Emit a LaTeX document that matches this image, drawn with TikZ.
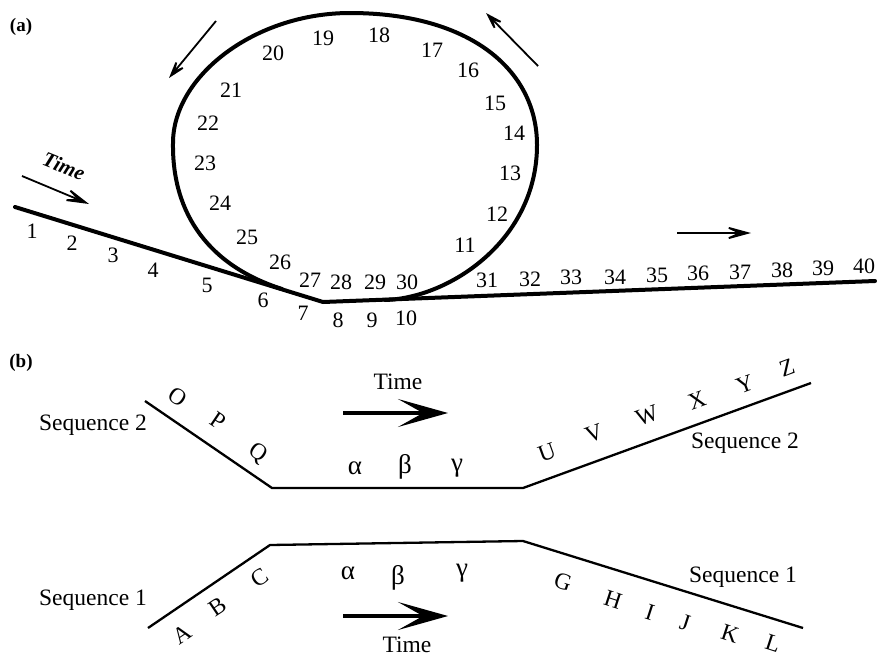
\documentclass[tikz,border=0pt]{standalone}
\usepackage{fontspec}
\setmainfont{Liberation Serif}
\usetikzlibrary{arrows.meta}

\begin{document}
\begin{tikzpicture}[x=1pt,y=-1pt,
  num/.style={font=\fontsize{22}{22}\selectfont, inner sep=0pt},
  lab/.style={font=\fontsize{23.5}{23.5}\selectfont, inner sep=0pt},
  greek/.style={font=\fontsize{27}{27}\selectfont, inner sep=0pt},
  panel/.style={font=\fontsize{19}{19}\selectfont\bfseries, inner sep=0pt},
  track/.style={line width=4pt, line cap=round, line join=round},
  seqline/.style={line width=2.3pt, line join=round},
  thinarrow/.style={line width=1.8pt, -{Stealth[length=33pt,width=18pt,inset=20pt]}},
  looparrow/.style={line width=1.8pt, -{Stealth[length=27pt,width=17pt,inset=17pt]}},
  timearrow/.style={line width=3.5pt, -{Stealth[length=50pt,width=28pt,inset=25pt]}}]

\useasboundingbox (0,0) rectangle (877,656);

% ---------------- (a) : the track with its loop ----------------
\node[panel] (pa) at (21,27) {(a)};

\coordinate (in0) at (15,207);
\coordinate (kink) at (323,302);
\coordinate (out0) at (875,281);
\draw[track] (in0) -- (kink) -- (out0);

% the loop, leaving the incoming track and rejoining the outgoing one
\coordinate (lp0) at (282,289);
\coordinate (lpw) at (173,143);
\coordinate (lpn) at (350,13);
\coordinate (lpe) at (537,145);
\coordinate (lp1) at (385,300);
\draw[track] (lp0) .. controls (210,266) and (172,215) .. (lpw)
  .. controls (173,76) and (255,13) .. (lpn)
  .. controls (470,13) and (537,70) .. (lpe)
  .. controls (537,240) and (450,298) .. (lp1);

% direction markers
\node[font=\fontsize{21}{21}\selectfont\bfseries\itshape, rotate=-22, inner sep=0pt] (ta) at (64,166) {Time};
\coordinate (ta0) at (22,176);
\coordinate (ta1) at (89,204);
\draw[thinarrow] (ta0) -- (ta1);

\coordinate (la0) at (216,21);
\coordinate (la1) at (169,78);
\draw[looparrow] (la0) -- (la1);

\coordinate (ra0) at (538,66);
\coordinate (ra1) at (486,13);
\draw[looparrow] (ra0) -- (ra1);

\coordinate (oa0) at (677,233);
\coordinate (oa1) at (751,233);
\draw[thinarrow] (oa0) -- (oa1);

% sequence positions
\foreach \n/\x/\y in {1/32/231, 2/72/243, 3/113/255, 4/153/270, 5/207/285,
  6/263/300, 7/303/313, 8/338/320, 9/372/320, 10/406/318,
  11/465/245, 12/497/214, 13/510/173, 14/514/133, 15/495/103,
  16/468/70, 17/432/50, 18/379/35, 19/323/38, 20/273/53,
  21/231/90, 22/208/123, 23/205/163, 24/220/203, 25/247/237,
  26/280/262, 27/310/280, 28/341/282, 29/375/282, 30/407/282,
  31/487/280, 32/530/279, 33/571/277, 34/615/277, 35/657/275,
  36/698/273, 37/740/272, 38/782/270, 39/823/268, 40/864/266}
  \node[num] (p\n) at (\x,\y) {\n};

% ---------------- (b) : two sequences sharing a segment ----------------
\node[panel] (pb) at (21,363) {(b)};

% sequence 2 (upper)
\coordinate (s2a) at (145,401);
\coordinate (s2b) at (272,488);
\coordinate (s2c) at (523,488);
\coordinate (s2d) at (811,383);
\draw[seqline] (s2a) -- (s2b) -- (s2c) -- (s2d);

% sequence 1 (lower)
\coordinate (s1a) at (148,628);
\coordinate (s1b) at (270,545);
\coordinate (s1c) at (523,541);
\coordinate (s1d) at (803,628);
\draw[seqline] (s1a) -- (s1b) -- (s1c) -- (s1d);

\node[lab] (sq2l) at (93,425) {Sequence 2};
\node[lab] (sq2r) at (745,443) {Sequence 2};
\node[lab] (sq1l) at (93,600) {Sequence 1};
\node[lab] (sq1r) at (743,577) {Sequence 1};

% letters along sequence 2
\node[lab, rotate=-34] (lO) at (178,397) {O};
\node[lab, rotate=-34] (lP) at (218,421) {P};
\node[lab, rotate=-34] (lQ) at (258,453) {Q};
\node[greek] (ga2) at (355,468) {α};
\node[greek] (gb2) at (405,467) {β};
\node[greek] (gg2) at (457,468) {γ};
\node[lab, rotate=20] (lU) at (547,452) {U};
\node[lab, rotate=20] (lV) at (594,434) {V};
\node[lab, rotate=20] (lW) at (647,416) {W};
\node[lab, rotate=20] (lX) at (697,400) {X};
\node[lab, rotate=20] (lY) at (745,384) {Y};
\node[lab, rotate=20] (lZ) at (787,368) {Z};

% letters along sequence 1
\node[lab, rotate=34] (lA) at (182,634) {A};
\node[lab, rotate=34] (lB) at (218,607) {B};
\node[lab, rotate=34] (lC) at (260,578) {C};
\node[greek] (ga1) at (348,573) {α};
\node[greek] (gb1) at (398,578) {β};
\node[greek] (gg1) at (462,573) {γ};
\node[lab, rotate=-18] (lG) at (563,582) {G};
\node[lab, rotate=-18] (lH) at (613,600) {H};
\node[lab, rotate=-18] (lI) at (650,612) {I};
\node[lab, rotate=-18] (lJ) at (685,623) {J};
\node[lab, rotate=-18] (lK) at (730,634) {K};
\node[lab, rotate=-18] (lL) at (773,643) {L};

% time arrows
\node[lab] (tt2) at (398,382) {Time};
\coordinate (t2a) at (343,413);
\coordinate (t2b) at (448,413);
\draw[timearrow] (t2a) -- (t2b);

\node[lab] (tt1) at (407,645) {Time};
\coordinate (t1a) at (343,616);
\coordinate (t1b) at (448,616);
\draw[timearrow] (t1a) -- (t1b);

\end{tikzpicture}
\end{document}
